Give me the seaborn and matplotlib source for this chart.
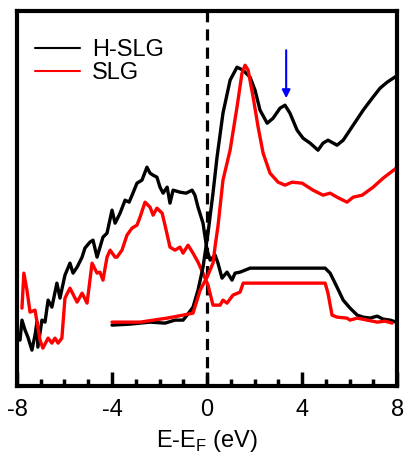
import numpy as np
import pandas as pd
import matplotlib
matplotlib.use("Agg")
import matplotlib.pyplot as plt
import seaborn as sns

# energies (eV) and intensities (a.u.)
hslg_vb_e = [-7.87, -7.79, -7.66, -7.54, -7.37, -7.24, -7.16, -7.12, -6.95, -6.82,
             -6.69, -6.53, -6.32, -6.19, -5.98, -5.77, -5.64, -5.47, -5.26, -5.14,
             -4.93, -4.80, -4.63, -4.38, -4.21, -4.00, -3.87, -3.66, -3.45, -3.28,
             -3.12, -2.95, -2.74, -2.53, -2.40, -2.27, -2.11, -1.98, -1.85, -1.68,
             -1.56, -1.43, -1.14, -0.88, -0.63, -0.51, -0.38, -0.17, 0.00, 0.13,
             0.21, 0.34, 0.46, 0.63, 0.84, 1.05, 1.18, 1.39, 1.81, 4.97,
             5.18, 5.47, 5.73, 6.02, 6.32, 6.57, 6.86, 7.16, 7.41, 7.71, 7.96]
hslg_vb_i = [0.46, 0.66, 0.56, 0.49, 0.36, 0.51, 0.64, 0.39, 0.66, 0.64,
             0.86, 0.79, 1.03, 0.88, 1.11, 1.23, 1.13, 1.19, 1.29, 1.38,
             1.44, 1.46, 1.29, 1.49, 1.53, 1.76, 1.63, 1.73, 1.86, 1.84,
             1.93, 2.03, 2.06, 2.19, 2.13, 2.11, 2.09, 1.99, 1.93, 1.99,
             1.83, 1.96, 1.94, 1.93, 1.96, 1.91, 1.79, 1.63, 1.36, 1.26,
             1.28, 1.31, 1.23, 1.08, 1.14, 1.06, 1.13, 1.14, 1.18, 1.18,
             1.13, 0.99, 0.86, 0.78, 0.71, 0.69, 0.68, 0.70, 0.67, 0.66, 0.64]

slg_vb_e = [-7.79, -7.71, -7.58, -7.45, -7.24, -7.03, -6.91, -6.69, -6.53, -6.40,
            -6.27, -6.11, -5.98, -5.77, -5.47, -5.26, -5.05, -4.84, -4.63, -4.51,
            -4.38, -4.21, -4.08, -3.87, -3.79, -3.58, -3.37, -3.16, -2.95, -2.82,
            -2.61, -2.40, -2.27, -2.11, -1.89, -1.77, -1.56, -1.35, -1.14, -1.01,
            -0.80, -0.59, -0.38, -0.17, 0.04, 0.25, 0.55, 0.67, 0.84, 1.09,
            1.39, 1.52, 4.97, 5.09, 5.26, 5.47, 5.89, 6.02, 6.32, 6.74,
            7.16, 7.49, 7.79]
slg_vb_i = [0.78, 1.13, 0.96, 0.74, 0.76, 0.46, 0.38, 0.48, 0.43, 0.48,
            0.43, 0.48, 0.88, 0.98, 0.84, 0.93, 0.83, 1.23, 1.13, 1.14,
            1.06, 1.29, 1.36, 1.29, 1.29, 1.36, 1.51, 1.58, 1.61, 1.69,
            1.84, 1.79, 1.71, 1.78, 1.73, 1.61, 1.39, 1.36, 1.39, 1.33,
            1.41, 1.33, 1.24, 1.13, 1.01, 0.81, 0.81, 0.86, 0.83, 0.91,
            0.94, 1.03, 1.03, 0.93, 0.71, 0.69, 0.68, 0.66, 0.68, 0.66,
            0.64, 0.65, 0.63]

hslg_cb_e = [-4.00, -3.24, -2.40, -1.77, -1.35, -1.01, -0.84, -0.59, -0.38, -0.17,
             0.04, 0.25, 0.42, 0.67, 0.97, 1.26, 1.52, 1.81, 2.02, 2.23,
             2.53, 2.78, 3.07, 3.28, 3.49, 3.79, 4.04, 4.34, 4.67, 4.88,
             5.09, 5.47, 5.73, 6.15, 6.57, 6.95, 7.28, 7.58, 7.96]
hslg_cb_i = [0.61, 0.62, 0.64, 0.63, 0.66, 0.66, 0.71, 0.79, 0.96, 1.19,
             1.53, 1.93, 2.29, 2.73, 3.06, 3.19, 3.16, 3.09, 2.96, 2.76,
             2.63, 2.68, 2.78, 2.81, 2.73, 2.56, 2.48, 2.43, 2.36, 2.43,
             2.46, 2.41, 2.46, 2.61, 2.76, 2.88, 2.98, 3.04, 3.10]

slg_cb_e = [-4.00, -2.82, -1.68, -1.01, -0.59, -0.29, 0.00, 0.25, 0.34, 0.46,
            0.67, 0.97, 1.26, 1.47, 1.60, 1.73, 1.94, 2.15, 2.36, 2.65,
            2.99, 3.28, 3.58, 4.00, 4.46, 4.88, 5.18, 5.47, 5.89, 6.15,
            6.53, 6.99, 7.41, 7.96]
slg_cb_i = [0.64, 0.64, 0.68, 0.71, 0.73, 0.96, 1.09, 1.23, 1.40, 1.60,
            2.06, 2.36, 2.79, 3.13, 3.21, 3.16, 2.89, 2.59, 2.33, 2.13,
            2.04, 2.01, 2.04, 2.03, 1.96, 1.91, 1.93, 1.89, 1.84, 1.89,
            1.91, 1.99, 2.08, 2.18]

arrow_e = 3.33
arrow_top = 3.36
arrow_tip = 2.88

sns.set_style("ticks")
plt.rcParams["font.family"] = ["Liberation Sans", "DejaVu Sans"]
plt.rcParams["mathtext.fontset"] = "custom"
plt.rcParams["mathtext.rm"] = "Liberation Sans"
plt.rcParams["axes.unicode_minus"] = False
plt.rcParams["text.color"] = "black"
plt.rcParams["axes.labelcolor"] = "black"
plt.rcParams["xtick.color"] = "black"

fig = plt.figure(figsize=(4.04, 4.68), dpi=100)
ax = fig.add_axes([0.042, 0.175, 0.941, 0.801])

lw = 2.4
sns.lineplot(x=hslg_vb_e, y=hslg_vb_i, ax=ax, color="black", lw=lw, label="H-SLG")
sns.lineplot(x=slg_vb_e, y=slg_vb_i, ax=ax, color="red", lw=lw, label="SLG")
sns.lineplot(x=hslg_cb_e, y=hslg_cb_i, ax=ax, color="black", lw=lw, legend=False)
sns.lineplot(x=slg_cb_e, y=slg_cb_i, ax=ax, color="red", lw=lw, legend=False)

ax.axvline(0, color="black", lw=2.3, ls=(0, (3.5, 2.2)), zorder=0)

ax.annotate("", xy=(arrow_e, arrow_tip), xytext=(arrow_e, arrow_top),
            arrowprops=dict(arrowstyle="-|>", color="blue", lw=1.5,
                            mutation_scale=12, shrinkA=0, shrinkB=0))

ax.set_xlim(-8, 8)
ax.set_ylim(0, 3.75)
ax.set_xticks([-8, -4, 0, 4, 8])
ax.set_xticks(np.arange(-8, 9, 1), minor=True)
ax.set_yticks([])
ax.tick_params(axis="x", which="major", direction="in", length=10, width=2.5,
               labelsize=17, pad=9)
ax.tick_params(axis="x", which="minor", direction="in", length=5, width=2.5)
for s in ax.spines.values():
    s.set_linewidth(3)
    s.set_color("black")
ax.set_xlabel("E-E$_\\mathrm{F}$ (eV)", fontsize=17, labelpad=5)
ax.set_ylabel("")

leg = ax.legend(loc="upper left", frameon=False, fontsize=17, handlelength=1.9,
                handletextpad=0.5, labelspacing=0.05, borderaxespad=0.3,
                bbox_to_anchor=(0.005, 0.97))
for h in leg.get_lines():
    h.set_linewidth(1.5)

fig.savefig("out.png", dpi=100)
